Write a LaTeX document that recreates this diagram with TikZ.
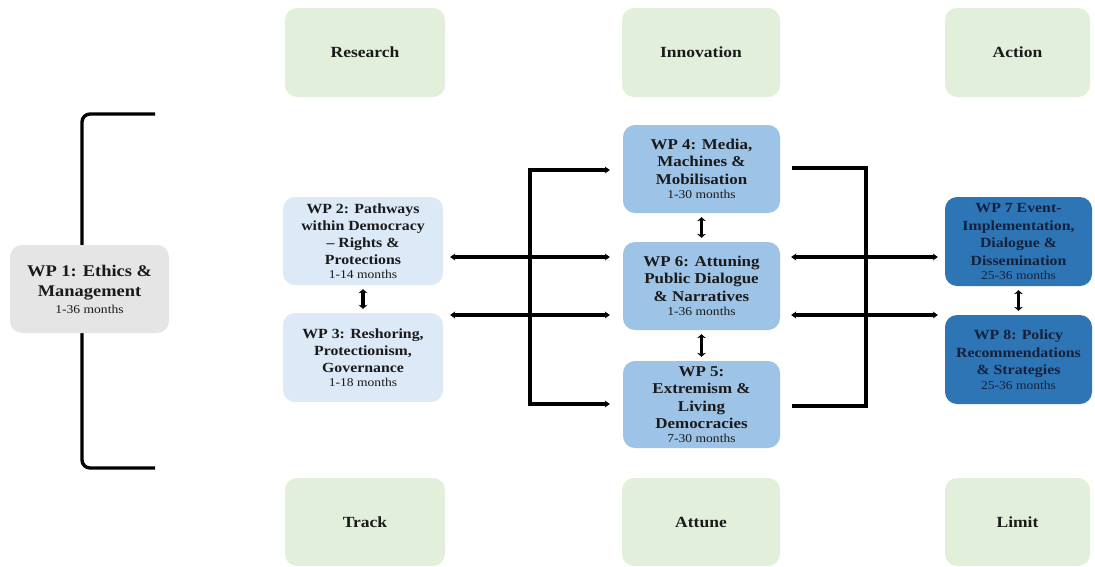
\documentclass[tikz,border=0pt]{standalone}
\usepackage{fontspec}
\setmainfont{Liberation Serif}[FakeStretch=1.13]
\usetikzlibrary{arrows.meta,calc}
\definecolor{boxgreen}{HTML}{E2EFDA}
\definecolor{boxgray}{HTML}{E6E5E5}
\definecolor{boxlight}{HTML}{DCE9F6}
\definecolor{boxmid}{HTML}{9DC3E6}
\definecolor{boxdark}{HTML}{2E75B6}
\definecolor{textdark}{HTML}{1A1A1A}
\definecolor{textnavy}{HTML}{14213D}
\newcommand\wpmonths[1]{{\fontsize{12}{13}\selectfont\mdseries #1}}
\tikzset{
  box/.style={rounded corners=12pt, inner sep=1pt, align=center, text=textdark},
  catbox/.style={box, fill=boxgreen, font=\fontsize{15.5}{18}\selectfont\bfseries},
  grayb/.style={box, fill=boxgray, font=\fontsize{16.3}{20}\selectfont\bfseries},
  lightb/.style={box, fill=boxlight, font=\fontsize{14}{17}\selectfont\bfseries},
  midb/.style={box, fill=boxmid, font=\fontsize{15}{17.5}\selectfont\bfseries},
  darkb/.style={box, fill=boxdark, text=textnavy, font=\fontsize{14}{17.5}\selectfont\bfseries},
  link/.style={line width=3.2pt, draw=black},
  onearrow/.style={link, -{Stealth[length=5pt,width=7pt]}},
  twoarrow/.style={link, {Stealth[length=5pt,width=7pt]}-{Stealth[length=5pt,width=7pt]}},
  vtwoarrow/.style={line width=3.8pt, {Stealth[length=4pt,width=9pt]}-{Stealth[length=4pt,width=9pt]}, shorten <=4pt, shorten >=4pt},
  bracketline/.style={line width=3.4pt, rounded corners=8pt}
}
\begin{document}
\begin{tikzpicture}[x=1pt,y=-1pt]
\useasboundingbox (0,0) rectangle (1095,566);

% category boxes
\node[catbox, minimum width=160pt, minimum height=89pt] (research) at (365,52.5) {Research};
\node[catbox, minimum width=158pt, minimum height=89pt] (innovation) at (701,52.5) {Innovation};
\node[catbox, minimum width=145pt, minimum height=89pt] (action) at (1017.5,52.5) {Action};
\node[catbox, minimum width=160pt, minimum height=88pt] (track) at (365,522) {Track};
\node[catbox, minimum width=158pt, minimum height=88pt] (attune) at (701,522) {Attune};
\node[catbox, minimum width=145pt, minimum height=88pt] (limit) at (1017.5,522) {Limit};

% bracket behind WP1
\coordinate (bt) at (155,114);
\coordinate (bb) at (155,468);
\coordinate (bc) at (82,0);
\draw[bracketline] (bt) -- (bt -| bc) -- (bb -| bc) -- (bb);

% work packages
\node[grayb, minimum width=159pt, minimum height=88pt] (wp1) at (89.5,289)
  {WP 1: Ethics \&\\Management\\[-3pt]\wpmonths{1-36 months}};
\node[lightb, minimum width=160pt, minimum height=88pt] (wp2) at (363,241)
  {WP 2: Pathways\\within Democracy\\– Rights \&\\Protections\\[-3pt]\wpmonths{1-14 months}};
\node[lightb, minimum width=160pt, minimum height=89pt] (wp3) at (363,357.5)
  {WP 3: Reshoring,\\Protectionism,\\Governance\\[-3pt]\wpmonths{1-18 months}};
\node[midb, minimum width=157pt, minimum height=88pt] (wp4) at (701.5,169)
  {WP 4: Media,\\Machines \&\\Mobilisation\\[-3pt]\wpmonths{1-30 months}};
\node[midb, minimum width=157pt, minimum height=88pt] (wp6) at (701.5,286)
  {WP 6: Attuning\\Public Dialogue\\\& Narratives\\[-3pt]\wpmonths{1-36 months}};
\node[midb, minimum width=157pt, minimum height=87pt] (wp5) at (701.5,404.5)
  {WP 5:\\Extremism \&\\Living\\Democracies\\[-4pt]\wpmonths{7-30 months}};
\node[darkb, minimum width=147pt, minimum height=89pt] (wp7) at (1018.5,241.5)
  {WP 7 Event-\\Implementation,\\Dialogue \&\\Dissemination\\[-3pt]\wpmonths{25-36 months}};
\node[darkb, minimum width=147pt, minimum height=89pt] (wp8) at (1018.5,359.5)
  {WP 8: Policy\\Recommendations\\\& Strategies\\[-3pt]\wpmonths{25-36 months}};

% vertical double arrows
\draw[vtwoarrow] (wp2.south) -- (wp3.north);
\draw[vtwoarrow] (wp4.south) -- (wp6.north);
\draw[vtwoarrow] (wp6.south) -- (wp5.north);
\draw[vtwoarrow] (wp7.south) -- (wp8.north);

% left distribution
\coordinate (j1) at (530,170);
\coordinate (j2) at (530,404);
\draw[link, line cap=rect] (j1) -- (j2);
\draw[onearrow, shorten >=13pt] (j1) -- (wp4.west |- j1);
\draw[onearrow, shorten >=13pt] (j2) -- (wp5.west |- j2);

\coordinate (h1) at (0,257);
\coordinate (h2) at (0,315);
\draw[twoarrow, shorten <=7pt, shorten >=13pt] (wp2.east |- h1) -- (wp6.west |- h1);
\draw[twoarrow, shorten <=7pt, shorten >=13pt] (wp3.east |- h2) -- (wp6.west |- h2);

% right side
\coordinate (r1) at (866,168);
\coordinate (r2) at (866,406);
\draw[link, line join=miter, shorten <=12pt, shorten >=12pt] (wp4.east |- r1) -- (r1) -- (r2) -- (wp5.east |- r2);
\draw[twoarrow, shorten <=11pt, shorten >=7pt] (wp6.east |- h1) -- (wp7.west |- h1);
\draw[twoarrow, shorten <=11pt, shorten >=7pt] (wp6.east |- h2) -- (wp8.west |- h2);
\end{tikzpicture}
\end{document}
